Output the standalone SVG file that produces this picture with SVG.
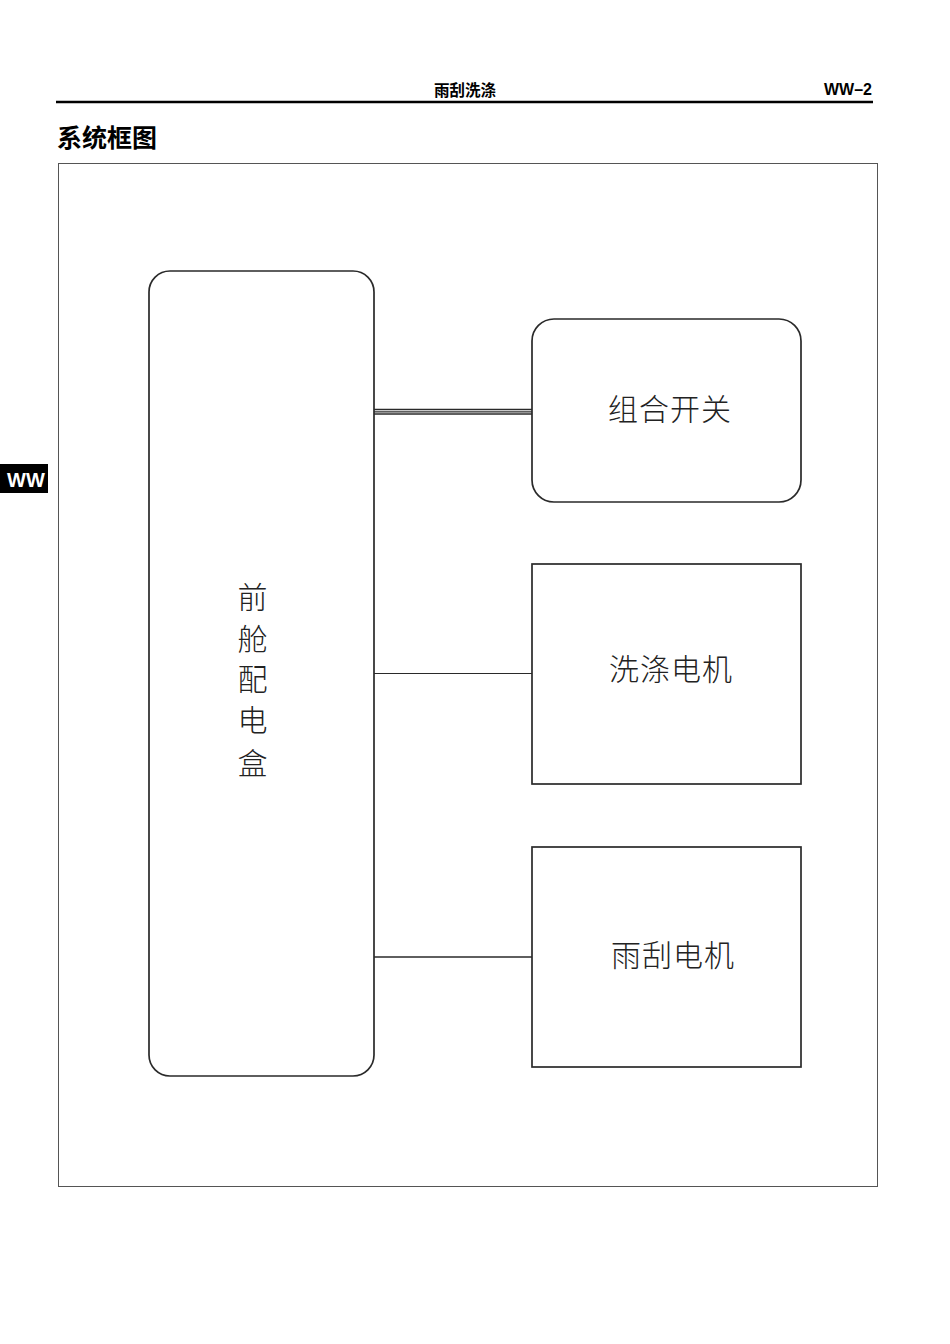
<svg xmlns="http://www.w3.org/2000/svg" width="950" height="1344" viewBox="0 0 950 1344">
<style>
.node{fill:#fff;stroke:#2a2a2a;stroke-width:1.7}
.lbl{font-family:"Noto Sans CJK SC","Noto Sans",sans-serif;font-weight:300;font-size:30px;fill:#222;text-anchor:middle;letter-spacing:1px}
.conn{stroke:#2a2a2a;fill:none}
.hdr{font-family:"Liberation Sans","Noto Sans CJK SC",sans-serif;font-weight:bold;fill:#000}
</style>
<rect width="950" height="1344" fill="#fff"/>
<g id="header">
<text class="hdr" x="465" y="96" font-size="15.5" text-anchor="middle" font-family="'Noto Sans CJK SC',sans-serif" font-weight="500">雨刮洗涤</text>
<text class="hdr" x="872" y="95" font-size="16" text-anchor="end">WW–2</text>
<line x1="56" y1="102" x2="873" y2="102" stroke="#000" stroke-width="2.5"/>
<text class="hdr" x="57" y="147" font-size="25" font-family="'Noto Sans CJK SC',sans-serif">系统框图</text>
</g>
<g id="tab">
<rect x="0" y="464" width="48" height="29" fill="#000"/>
<text x="26" y="487" font-family="'Liberation Sans',sans-serif" font-weight="bold" font-size="20" fill="#fff" text-anchor="middle">WW</text>
</g>
<rect id="frame" x="58.5" y="163.5" width="819" height="1023" fill="none" stroke="#555" stroke-width="1"/>
<g id="connectors">
<line class="conn" x1="374" y1="409.5" x2="532" y2="409.5" stroke-width="1.3"/>
<line class="conn" x1="374" y1="411.8" x2="532" y2="411.8" stroke-width="1.3"/>
<line class="conn" x1="374" y1="414" x2="532" y2="414" stroke-width="1.3"/>
<line class="conn" x1="374" y1="673.5" x2="532" y2="673.5" stroke-width="1"/>
<line class="conn" x1="374" y1="957" x2="532" y2="957" stroke-width="1.5"/>
</g>
<g id="node-fuse-box">
<rect class="node" x="149" y="271" width="225" height="805" rx="21" ry="21"/>
<text class="lbl" x="253" y="608">前</text>
<text class="lbl" x="253" y="650">舱</text>
<text class="lbl" x="253" y="690">配</text>
<text class="lbl" x="253" y="731">电</text>
<text class="lbl" x="253" y="774">盒</text>
</g>
<g id="node-combo-switch">
<rect class="node" x="532" y="319" width="269" height="183" rx="22" ry="22"/>
<text class="lbl" x="670" y="420">组合开关</text>
</g>
<g id="node-washer-motor">
<rect class="node" x="532" y="564" width="269" height="220"/>
<text class="lbl" x="671" y="680">洗涤电机</text>
</g>
<g id="node-wiper-motor">
<rect class="node" x="532" y="847" width="269" height="220"/>
<text class="lbl" x="673" y="966">雨刮电机</text>
</g>
</svg>
